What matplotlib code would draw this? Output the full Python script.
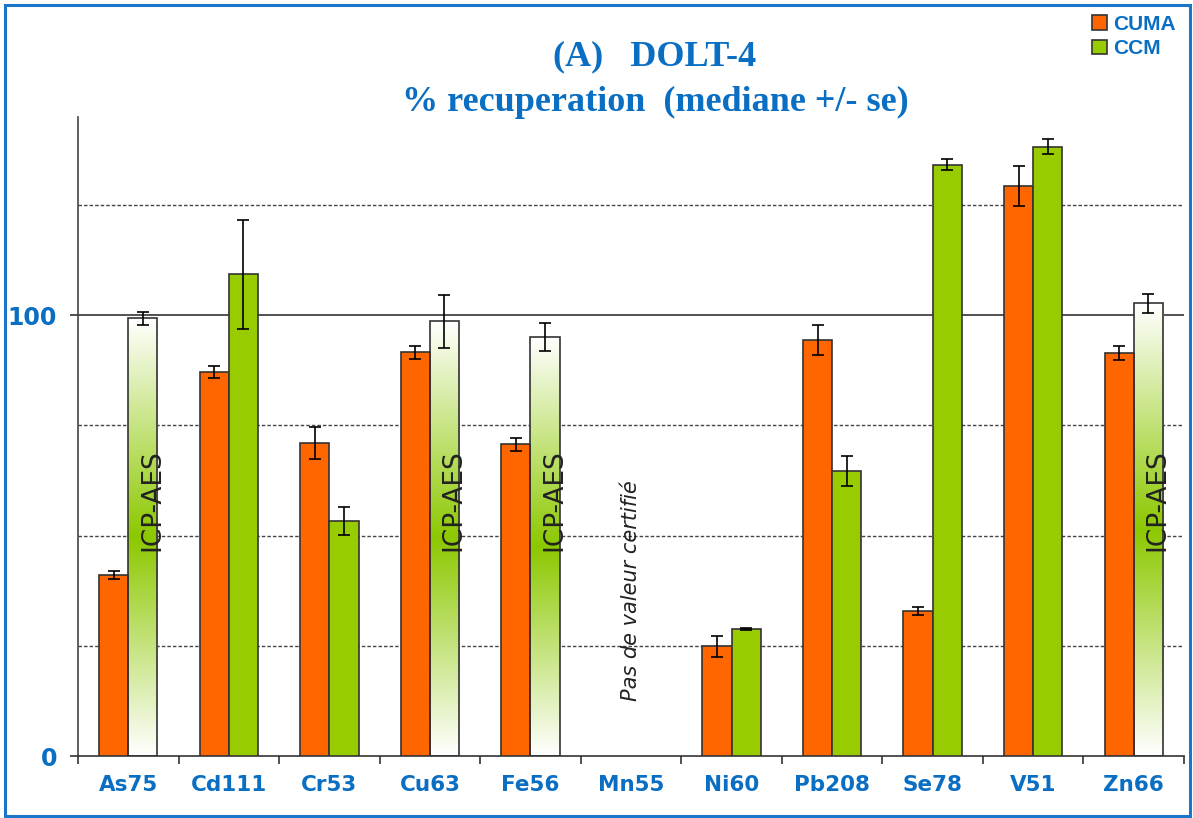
import numpy as np
import matplotlib
matplotlib.use("Agg")
import matplotlib.pyplot as plt
from matplotlib.patches import Patch, Rectangle
from matplotlib.colors import LinearSegmentedColormap

# valeurs (% recuperation, mediane +/- se)
elements = ['As75', 'Cd111', 'Cr53', 'Cu63', 'Fe56', 'Mn55', 'Ni60', 'Pb208', 'Se78', 'V51', 'Zn66']
cuma = [41.0, 87.1, 71.0, 91.6, 70.7, np.nan, 24.9, 94.3, 32.9, 129.3, 91.4]
cuma_se = [0.9, 1.4, 3.6, 1.5, 1.5, np.nan, 2.4, 3.4, 1.0, 4.5, 1.6]
ccm = [99.3, 109.3, 53.3, 98.6, 95.0, np.nan, 28.8, 64.6, 134.2, 138.3, 102.7]
ccm_se = [1.4, 12.4, 3.2, 6.0, 3.2, np.nan, 0.2, 3.4, 1.2, 1.6, 2.1]
# CCM mesure par ICP-AES (barre en degrade)
icp_aes = [True, False, False, True, True, False, False, False, False, False, True]
no_value = 'Mn55'

blue = '#0A6FC2'
orange = '#FF6600'
green = '#99CC00'
edge = '#333333'

fig = plt.figure(figsize=(11.93, 8.18), dpi=100)
ax = fig.add_axes([78 / 1193, 62 / 818, 1106 / 1193, 639 / 818])

x = np.arange(len(elements))
w = 0.29

ax.bar(x - w / 2, cuma, w, color=orange, edgecolor=edge, linewidth=1.2, zorder=3)
ax.errorbar(x - w / 2, cuma, yerr=cuma_se, fmt='none', ecolor='black',
            elinewidth=1.2, capsize=4.5, capthick=1.2, zorder=4)

ccm_colors = ['none' if f else green for f in icp_aes]
ax.bar(x + w / 2, ccm, w, color=ccm_colors, edgecolor=edge, linewidth=1.2, zorder=3)
ax.errorbar(x + w / 2, ccm, yerr=ccm_se, fmt='none', ecolor='black',
            elinewidth=1.2, capsize=4.5, capthick=1.2, zorder=4)

# degrade blanc -> vert -> blanc pour les barres ICP-AES
cmap = LinearSegmentedColormap.from_list('icp', ['#FFFFFF', '#8CC800', '#FFFFFF'])
grad = np.linspace(0, 1, 256).reshape(-1, 1)
for i, flag in enumerate(icp_aes):
    if flag:
        ax.imshow(grad, extent=[x[i], x[i] + w, 0, ccm[i]], aspect='auto',
                  cmap=cmap, zorder=2.5)
        ax.text(x[i] + 0.235, 58, 'ICP-AES', rotation=90, ha='center', va='center',
                fontsize=19, color='#222222', zorder=5)

i_mn = elements.index(no_value)
ax.text(x[i_mn], 37.5, 'Pas de valeur certifié', rotation=90, ha='center', va='center',
        fontsize=15, style='italic', color='#222222', zorder=5)

ax.set_xlim(-0.5, len(elements) - 0.5)
ax.set_ylim(0, 145)

# grille
for yv in [25, 50, 75, 125]:
    ax.axhline(yv, color='#444444', linestyle=(0, (2.5, 1.5)), linewidth=1.0, zorder=1)
ax.axhline(100, color='#333333', linewidth=1.2, zorder=1)

ax.set_yticks([0, 100])
ax.set_yticklabels(['0', '100'])
ax.set_xticks(x)
ax.set_xticklabels(elements)
ax.set_xticks(np.arange(-0.5, len(elements), 1), minor=True)
ax.tick_params(axis='x', which='major', length=0, pad=14)
ax.tick_params(axis='x', which='minor', length=6, width=1.2, color='#333333', direction='out')
ax.tick_params(axis='y', length=6, width=1.2, color='#333333', pad=9)
for lab in ax.get_xticklabels() + ax.get_yticklabels():
    lab.set_color(blue)
    lab.set_fontweight('bold')
for lab in ax.get_xticklabels():
    lab.set_fontsize(15.5)
for lab in ax.get_yticklabels():
    lab.set_fontsize(17)

for s in ['top', 'right']:
    ax.spines[s].set_visible(False)
ax.spines['left'].set_color('#444444')
ax.spines['bottom'].set_color('#333333')
ax.spines['left'].set_linewidth(1.2)
ax.spines['bottom'].set_linewidth(1.2)

# titre
fig.text(655 / 1193, 1 - 57 / 818, '(A)   DOLT-4', ha='center', va='center',
         family='Liberation Serif', fontweight='bold', fontsize=26, color=blue)
fig.text(655 / 1193, 1 - 102 / 818, '% recuperation  (mediane +/- se)', ha='center', va='center',
         family='Liberation Serif', fontweight='bold', fontsize=26, color=blue)

# legende
handles = [Patch(facecolor=orange, edgecolor=edge, linewidth=1.2, label='CUMA'),
           Patch(facecolor=green, edgecolor=edge, linewidth=1.2, label='CCM')]
leg = fig.legend(handles=handles, loc='upper left', bbox_to_anchor=(1092 / 1193, 1 - 15 / 818),
                 frameon=False, handlelength=0.7, handleheight=0.7, handletextpad=0.3,
                 labelspacing=0.25, borderpad=0, borderaxespad=0,
                 prop={'family': 'Liberation Sans', 'weight': 'bold', 'size': 15})
for t in leg.get_texts():
    t.set_color(blue)

# cadre bleu
fig.patches.append(Rectangle((5 / 1193, 2 / 818), 1185 / 1193, 811 / 818, transform=fig.transFigure,
                             fill=False, edgecolor='#1B75C9', linewidth=2.2))

fig.savefig('out.png', dpi=100)
